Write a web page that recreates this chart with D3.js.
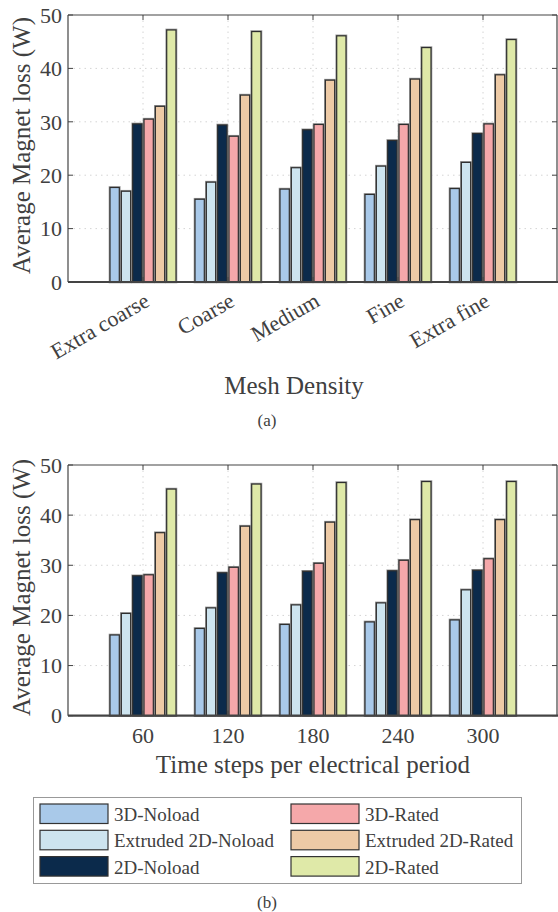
<!DOCTYPE html>
<html>
<head>
<meta charset="utf-8">
<script src="https://cdn.jsdelivr.net/npm/d3@7"></script>
<style>
  html, body { margin: 0; padding: 0; background: #fff; }
  svg { display: block; }
  text { font-family: "Liberation Serif", "Times New Roman", serif; fill: #404040; }
</style>
</head>
<body>
<svg id="fig" width="558" height="912"></svg>
<script>
// Series shared by both panels
const series = ["3D-Noload", "Extruded 2D-Noload", "2D-Noload", "3D-Rated", "Extruded 2D-Rated", "2D-Rated"];
const colors = ["#a9c9e9", "#cde4ef", "#0b2a4b", "#f5a8aa", "#edcaa6", "#dfe9a8"];
const yTicks = [0, 10, 20, 30, 40, 50];

// Panel (a): mesh density study
const meshCategories = ["Extra coarse", "Coarse", "Medium", "Fine", "Extra fine"];
const mesh3DNoload    = [17.7, 15.5, 17.4, 16.4, 17.5];
const meshExtNoload   = [17.0, 18.7, 21.4, 21.7, 22.4];
const mesh2DNoload    = [29.6, 29.4, 28.5, 26.5, 27.8];
const mesh3DRated     = [30.5, 27.3, 29.5, 29.5, 29.6];
const meshExtRated    = [32.9, 35.0, 37.8, 38.0, 38.8];
const mesh2DRated     = [47.2, 46.9, 46.1, 43.9, 45.4];

// Panel (b): time step study
const stepCategories = ["60", "120", "180", "240", "300"];
const step3DNoload    = [16.1, 17.4, 18.2, 18.7, 19.1];
const stepExtNoload   = [20.4, 21.5, 22.1, 22.5, 25.1];
const step2DNoload    = [27.9, 28.5, 28.8, 28.9, 29.0];
const step3DRated     = [28.1, 29.6, 30.4, 31.0, 31.3];
const stepExtRated    = [36.5, 37.8, 38.6, 39.1, 39.1];
const step2DRated     = [45.2, 46.2, 46.5, 46.7, 46.7];

const svg = d3.select("#fig");

function panel(opts) {
  const { categories, values, top, bottom, left, right, xLabel, xLabelX, xLabelY,
          rotateTicks, caption, captionY } = opts;
  const g = svg.append("g");
  const x = d3.scaleLinear().domain([0, categories.length - 1]).range([143, 483]);
  const y = d3.scaleLinear().domain([0, 50]).range([bottom, top]);
  const inner = d3.scaleBand().domain(series).range([-33, 33]).paddingInner(0.18);

  // grid
  const grid = g.append("g").attr("stroke", "#d4d4d4").attr("stroke-width", 1)
    .attr("stroke-dasharray", "1.5,4");
  grid.selectAll(".gy").data(yTicks.slice(1, -1)).join("line")
    .attr("x1", left).attr("x2", right).attr("y1", d => y(d)).attr("y2", d => y(d));
  grid.selectAll(".gx").data(categories.map((c, i) => i)).join("line")
    .attr("x1", d => x(d)).attr("x2", d => x(d)).attr("y1", top).attr("y2", bottom);

  // bars: soft grey halo under a dark edge
  const groups = g.append("g").selectAll("g").data(categories).join("g")
    .attr("transform", (c, i) => `translate(${x(i)},0)`);
  const barData = (c, i) => series.map((s, k) => ({ s, k, v: values[k][i] }));
  groups.selectAll("rect.halo").data(barData).join("rect")
    .attr("class", "halo")
    .attr("x", d => inner(d.s))
    .attr("width", inner.bandwidth())
    .attr("y", d => y(d.v))
    .attr("height", d => y(0) - y(d.v))
    .attr("fill", "none")
    .attr("stroke", "#9a9a9a")
    .attr("stroke-width", 2.6);
  groups.selectAll("rect.bar").data(barData).join("rect")
    .attr("class", "bar")
    .attr("x", d => inner(d.s))
    .attr("width", inner.bandwidth())
    .attr("y", d => y(d.v))
    .attr("height", d => y(0) - y(d.v))
    .attr("fill", d => colors[d.k])
    .attr("stroke", "#2e2e2e")
    .attr("stroke-width", 1.2);

  // axes box
  const ax = g.append("g").attr("stroke", "#444").attr("fill", "none");
  ax.append("line").attr("x1", left).attr("x2", right).attr("y1", top).attr("y2", top).attr("stroke-width", 1.2);
  ax.append("line").attr("x1", left).attr("x2", left).attr("y1", top).attr("y2", bottom).attr("stroke-width", 1.2);
  ax.append("line").attr("x1", right).attr("x2", right).attr("y1", top).attr("y2", bottom).attr("stroke-width", 1.2);
  ax.append("line").attr("x1", left).attr("x2", right + 1).attr("y1", bottom).attr("y2", bottom).attr("stroke-width", 2.2);

  // ticks (inward)
  yTicks.forEach(t => {
    ax.append("line").attr("x1", left).attr("x2", left + 5).attr("y1", y(t)).attr("y2", y(t));
    ax.append("line").attr("x1", right).attr("x2", right - 5).attr("y1", y(t)).attr("y2", y(t));
  });
  categories.forEach((c, i) => {
    ax.append("line").attr("x1", x(i)).attr("x2", x(i)).attr("y1", top).attr("y2", top + 5);
    ax.append("line").attr("x1", x(i)).attr("x2", x(i)).attr("y1", bottom).attr("y2", bottom - 5);
  });

  // y tick labels
  g.append("g").selectAll("text").data(yTicks).join("text")
    .attr("x", 62).attr("y", d => y(d)).attr("dy", "0.35em")
    .attr("text-anchor", "end").style("font-size", "22px").text(d => d);

  // x tick labels
  if (rotateTicks) {
    g.append("g").selectAll("text").data(categories).join("text")
      .attr("text-anchor", "end").style("font-size", "22px")
      .attr("transform", (c, i) => `translate(${x(i) + 8},${bottom + 23}) rotate(-30)`)
      .text(d => d);
  } else {
    g.append("g").selectAll("text").data(categories).join("text")
      .attr("x", (c, i) => x(i)).attr("y", bottom + 27)
      .attr("text-anchor", "middle").style("font-size", "22px").text(d => d);
  }

  // axis titles
  g.append("text").attr("text-anchor", "middle").style("font-size", "25px")
    .attr("transform", `translate(30,${(top + bottom) / 2 - 3}) rotate(-90)`)
    .text("Average Magnet loss (W)");
  g.append("text").attr("text-anchor", "middle").style("font-size", "25px")
    .attr("x", xLabelX).attr("y", xLabelY).text(xLabel);
  g.append("text").attr("text-anchor", "middle").style("font-size", "17px")
    .attr("x", 267).attr("y", captionY).text(caption);
}

panel({
  categories: meshCategories,
  values: [mesh3DNoload, meshExtNoload, mesh2DNoload, mesh3DRated, meshExtRated, mesh2DRated],
  top: 15, bottom: 282, left: 68, right: 557,
  xLabel: "Mesh Density", xLabelX: 294, xLabelY: 394,
  rotateTicks: true, caption: "(a)", captionY: 426
});

panel({
  categories: stepCategories,
  values: [step3DNoload, stepExtNoload, step2DNoload, step3DRated, stepExtRated, step2DRated],
  top: 465, bottom: 715.7, left: 68, right: 557,
  xLabel: "Time steps per electrical period", xLabelX: 313, xLabelY: 773,
  rotateTicks: false, caption: "(b)", captionY: 908
});

// legend
const legend = svg.append("g");
legend.append("rect").attr("x", 33.5).attr("y", 797.5).attr("width", 488).attr("height", 86)
  .attr("fill", "#fff").attr("stroke", "#999").attr("stroke-width", 1);
const items = legend.selectAll("g").data(series).join("g")
  .attr("transform", (s, i) => `translate(${i < 3 ? 40 : 291},${804 + (i % 3) * 26.3})`);
items.append("rect").attr("width", 68).attr("height", 19.5)
  .attr("fill", (s, i) => colors[i]).attr("stroke", "#333").attr("stroke-width", 1.2);
items.append("text").attr("x", 74).attr("y", 17).style("font-size", "19px").text(d => d);
</script>
</body>
</html>
